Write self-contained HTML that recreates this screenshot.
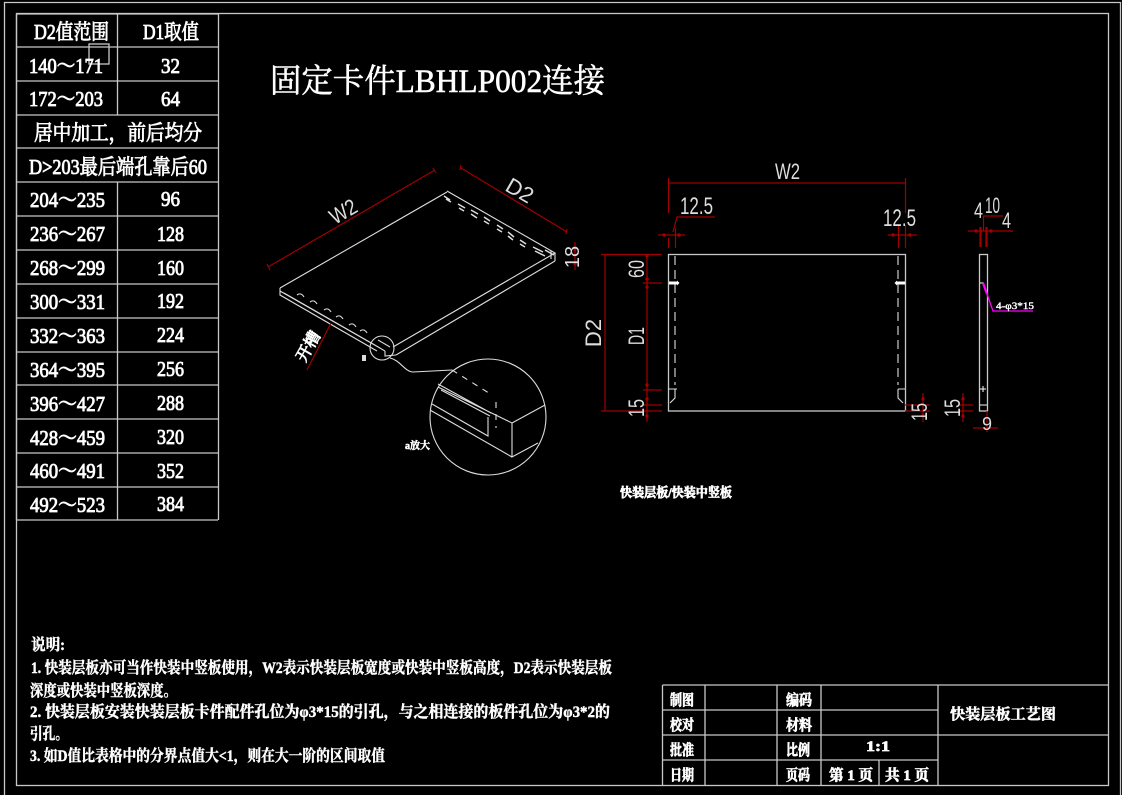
<!DOCTYPE html>
<html><head><meta charset="utf-8"><style>
html,body{margin:0;padding:0;background:#000;width:1122px;height:795px;overflow:hidden}
svg{display:block}
.l{stroke:#c8c8c8;stroke-width:1.3;fill:none}
.w{stroke:#ddd;stroke-width:1.1;fill:none}
.r{stroke:#a00000;stroke-width:1.2;fill:none}
.d{fill:#a00000;stroke:none}
text{font-family:"Liberation Serif","Noto Serif CJK SC",serif;fill:#fff;stroke:#fff;stroke-width:.45}
.t{font-size:21px;stroke-width:.85}
.c{font-family:"Liberation Sans",sans-serif;stroke-width:0;fill:#ddd;font-size:22px}
.n{font-size:15px;font-weight:bold;stroke-width:.7}
</style></head><body>
<svg width="1122" height="795" viewBox="0 0 1122 795" xmlns="http://www.w3.org/2000/svg">
<rect width="1122" height="795" fill="#000"/>
<path class="l" d="M4.500 795V2.500H1120.500V795"/>
<rect x="16.500" y="13.500" width="1092" height="772" class="l"/>

<!-- table -->
<path class="l" d="M16.500 14V520M218.500 14V520M117.500 14V115M117.500 182V520M16 14H218M16 47H218M16 81H218M16 115H218M16 148H218M16 182H218M16 216H218M16 250H218M16 284H218M16 318H218M16 352H218M16 385H218M16 419H218M16 453H218M16 487H218M16 520H218"/>
<rect x="89" y="44" width="20" height="20" class="l" stroke-width="1"/>
<g>
<text class="t" x="34" y="39" textLength="75" lengthAdjust="spacingAndGlyphs">D2值范围</text>
<text class="t" x="143" y="39" textLength="56" lengthAdjust="spacingAndGlyphs">D1取值</text>
<text class="t" x="29" y="73" textLength="74" lengthAdjust="spacingAndGlyphs">140～171</text>
<text class="t" x="161" y="73" textLength="19" lengthAdjust="spacingAndGlyphs">32</text>
<text class="t" x="29" y="106" textLength="74" lengthAdjust="spacingAndGlyphs">172～203</text>
<text class="t" x="161" y="106" textLength="19" lengthAdjust="spacingAndGlyphs">64</text>
<text class="t" x="34" y="140" textLength="168" lengthAdjust="spacingAndGlyphs">居中加工，前后均分</text>
<text class="t" x="29" y="174" textLength="178" lengthAdjust="spacingAndGlyphs">D&gt;203最后端孔靠后60</text>
<text class="t" x="30" y="207" textLength="75" lengthAdjust="spacingAndGlyphs">204～235</text>
<text class="t" x="161" y="206" textLength="19" lengthAdjust="spacingAndGlyphs">96</text>
<text class="t" x="30" y="241" textLength="75" lengthAdjust="spacingAndGlyphs">236～267</text>
<text class="t" x="157" y="241" textLength="27" lengthAdjust="spacingAndGlyphs">128</text>
<text class="t" x="30" y="275" textLength="75" lengthAdjust="spacingAndGlyphs">268～299</text>
<text class="t" x="157" y="275" textLength="27" lengthAdjust="spacingAndGlyphs">160</text>
<text class="t" x="30" y="309" textLength="75" lengthAdjust="spacingAndGlyphs">300～331</text>
<text class="t" x="157" y="308" textLength="27" lengthAdjust="spacingAndGlyphs">192</text>
<text class="t" x="30" y="343" textLength="75" lengthAdjust="spacingAndGlyphs">332～363</text>
<text class="t" x="157" y="342" textLength="27" lengthAdjust="spacingAndGlyphs">224</text>
<text class="t" x="30" y="377" textLength="75" lengthAdjust="spacingAndGlyphs">364～395</text>
<text class="t" x="157" y="376" textLength="27" lengthAdjust="spacingAndGlyphs">256</text>
<text class="t" x="30" y="411" textLength="75" lengthAdjust="spacingAndGlyphs">396～427</text>
<text class="t" x="157" y="410" textLength="27" lengthAdjust="spacingAndGlyphs">288</text>
<text class="t" x="30" y="445" textLength="75" lengthAdjust="spacingAndGlyphs">428～459</text>
<text class="t" x="157" y="444" textLength="27" lengthAdjust="spacingAndGlyphs">320</text>
<text class="t" x="30" y="478" textLength="75" lengthAdjust="spacingAndGlyphs">460～491</text>
<text class="t" x="157" y="478" textLength="27" lengthAdjust="spacingAndGlyphs">352</text>
<text class="t" x="30" y="512" textLength="75" lengthAdjust="spacingAndGlyphs">492～523</text>
<text class="t" x="157" y="511" textLength="27" lengthAdjust="spacingAndGlyphs">384</text>
</g>

<text x="270" y="92" font-size="33" textLength="335" lengthAdjust="spacingAndGlyphs" style="stroke-width:.55">固定卡件LBHLP002连接</text>

<!-- isometric -->
<g class="w">
<path d="M280 288L447 192M447 191L555 253L393 347M555 261L396 355M555 253V261M551 251V259"/>
<path d="M280 288V295L377 351M280 291L385 351M284 293L380 348M385 351V356L396 355M378 340L390 347"/>
<path stroke-width="1.500" d="M444 196l6 4M446 199l5 3M458 204l7 4M459 208l5 3M471 210l7 4M471 214l6 4M484 217l6 4M484 221l5 3M497 225l6 4M497 229l5 3M508 232l6 5M508 236l5 4M520 240l6 4M520 244l5 3M533 247l10 5M535 251l10 5M545 250l9 5"/>
<path d="M297 295q4-3 7 2M310 302q4-3 7 2M324 310q4-3 7 2M336 317q4-3 7 2M349 325q4-3 7 2M360 331q4-3 7 2"/>
<circle cx="382" cy="348" r="12"/>
<circle cx="488" cy="417" r="58"/>
<path d="M390 358C400 360 405 372 413 372L452 370"/>
<path d="M438 387L512 423L545 405M512 423V457L538 443M430 410L512 457M432 404L488 436V417M438 384L491 413M441 390l49 26"/>
<path stroke-dasharray="6 6" d="M452 370L492 395M496 402V428"/>
</g>
<rect x="362" y="355" width="4" height="6" fill="#ddd"/>
<text x="405" y="449" font-size="10" font-weight="bold" textLength="25" lengthAdjust="spacingAndGlyphs" style="stroke-width:.5">a放大</text>

<path class="r" d="M268 267L435 170M267 264l3 6M433 168l3 5M461 168L567 232M461 165l-1 5M567 229l-1 5M575 242V270M331 323L307 370"/>
<circle class="d" cx="575" cy="250" r="1.600"/><circle class="d" cx="575" cy="264" r="1.600"/>
<text class="c" transform="translate(347,218) rotate(-30)" text-anchor="middle" textLength="28" lengthAdjust="spacingAndGlyphs">W2</text>
<text class="c" transform="translate(516,197) rotate(30)" text-anchor="middle">D2</text>
<text class="c" transform="translate(579,257) rotate(-90)" text-anchor="middle" style="font-size:20px">18</text>
<text transform="translate(313,349) rotate(-60)" font-size="16" text-anchor="middle" style="stroke-width:.9">开槽</text>

<!-- front view -->
<rect x="668.500" y="254.500" width="237" height="156.500" class="l"/>
<path class="w" stroke-dasharray="9 5" d="M675 256V385M898 256V385"/>
<path class="w" d="M668 389H677M898 389H905M675 389V398L670 403M898 389V398L903 403"/>
<path d="M669 283H677" stroke="#fff" stroke-width="3"/><path d="M897 283H905" stroke="#fff" stroke-width="3"/>
<path d="M677 280.500L679.500 283L677 285.500z" fill="#fff"/><path d="M897 280.500L894.500 283L897 285.500z" fill="#fff"/>

<!-- side view -->
<rect x="979.500" y="254.500" width="8" height="156.500" class="l"/>
<path class="w" d="M980 405H987"/>
<path d="M980 389H986M983 386V392M980 283H984" stroke="#fff"/>

<!-- dims -->
<path class="r" d="M668.500 178V213M905.500 178V213M668 183H905M668.500 238V248M675.500 228V248M898.500 225V248M905.500 225V248M658 235H685M888 235H917M673 232L677 217H715
M605 254V411M601 254.500H662M601 411H662M647 254V422M643 283H662M643 390H662M643 405H662
M923 393V422M905 405H930M905 411H930M963 393V422M960 405H973M960 411H973
M983.500 216V231M968 231H1013M983 216H1003M973 428H998M987 411V432"/>
<path d="M980.500 227V247M986.500 227V247" stroke="#a00000" stroke-width="2.200"/>
<g class="d"><circle cx="664" cy="235" r="1.700"/><circle cx="679" cy="235" r="1.700"/><circle cx="893" cy="235" r="1.700"/><circle cx="910" cy="235" r="1.700"/>
<circle cx="647" cy="256" r="1.700"/><circle cx="647" cy="279" r="1.700"/><circle cx="647" cy="287" r="1.700"/><circle cx="647" cy="385" r="1.700"/><circle cx="647" cy="399" r="1.700"/><circle cx="647" cy="416" r="1.700"/>
<circle cx="923" cy="399" r="1.700"/><circle cx="923" cy="416" r="1.700"/><circle cx="963" cy="399" r="1.700"/><circle cx="963" cy="416" r="1.700"/>
<circle cx="976" cy="231" r="1.700"/><circle cx="991" cy="231" r="1.700"/></g>

<text class="c" x="775" y="179" textLength="25" lengthAdjust="spacingAndGlyphs">W2</text>
<text class="c" x="680" y="214" textLength="33" lengthAdjust="spacingAndGlyphs" style="font-size:24px">12.5</text>
<text class="c" x="883" y="226" textLength="33" lengthAdjust="spacingAndGlyphs" style="font-size:24px">12.5</text>
<text class="c" transform="translate(601,333) rotate(-90)" text-anchor="middle">D2</text>
<text class="c" transform="translate(644,269) rotate(-90)" text-anchor="middle" style="font-size:22px" textLength="18" lengthAdjust="spacingAndGlyphs">60</text>
<text class="c" transform="translate(644,336) rotate(-90)" text-anchor="middle" style="font-size:22px" textLength="18" lengthAdjust="spacingAndGlyphs">D1</text>
<text class="c" transform="translate(644,408) rotate(-90)" text-anchor="middle" style="font-size:22px" textLength="18" lengthAdjust="spacingAndGlyphs">15</text>
<text class="c" transform="translate(927,412) rotate(-90)" text-anchor="middle" style="font-size:22px" textLength="18" lengthAdjust="spacingAndGlyphs">15</text>
<text class="c" transform="translate(960,408) rotate(-90)" text-anchor="middle" style="font-size:22px" textLength="18" lengthAdjust="spacingAndGlyphs">15</text>
<text class="c" x="985" y="213" style="font-size:22px" textLength="15" lengthAdjust="spacingAndGlyphs">10</text>
<text class="c" x="974" y="218" style="font-size:22px" textLength="9" lengthAdjust="spacingAndGlyphs">4</text>
<text class="c" x="1002" y="228" style="font-size:22px" textLength="9" lengthAdjust="spacingAndGlyphs">4</text>
<text class="c" transform="translate(987,430)" text-anchor="middle" style="font-size:18px">9</text>
<path d="M983 283L986 291L993 311H1033" stroke="#f0f" stroke-width="1.300" fill="none"/>
<path d="M983 283L987 294" stroke="#f0f" stroke-width="2.200" fill="none"/>
<text x="996" y="309" font-size="9" textLength="38" lengthAdjust="spacingAndGlyphs" style="stroke-width:.4">4-φ3*15</text>

<text x="620" y="497" font-size="13" font-weight="bold" textLength="112" lengthAdjust="spacingAndGlyphs" style="stroke-width:.7">快装层板/快装中竖板</text>

<!-- notes -->
<g font-size="16" font-weight="bold" style="stroke-width:.7">
<text x="31" y="650" textLength="34" lengthAdjust="spacingAndGlyphs">说明:</text>
<text x="31" y="673" textLength="581" lengthAdjust="spacingAndGlyphs">1. 快装层板亦可当作快装中竖板使用，W2表示快装层板宽度或快装中竖板高度，D2表示快装层板</text>
<text x="30" y="696" textLength="147" lengthAdjust="spacingAndGlyphs">深度或快装中竖板深度。</text>
<text x="30" y="717" textLength="580" lengthAdjust="spacingAndGlyphs">2. 快装层板安装快装层板卡件配件孔位为φ3*15的引孔，与之相连接的板件孔位为φ3*2的</text>
<text x="30" y="739" textLength="38" lengthAdjust="spacingAndGlyphs">引孔。</text>
<text x="30" y="761" textLength="355" lengthAdjust="spacingAndGlyphs">3. 如D值比表格中的分界点值大&lt;1，则在大一阶的区间取值</text>
</g>

<!-- title block -->
<path class="l" d="M662.500 685H1108M662.500 710H938M662.500 735H1108M662.500 760H938M662.500 685V785M705 685V785M777 685V785M821 685V785M938 685V785M879 760V785"/>
<g font-weight="bold">
<text class="n" x="670" y="705" textLength="24" lengthAdjust="spacingAndGlyphs">制图</text>
<text class="n" x="670" y="730" textLength="24" lengthAdjust="spacingAndGlyphs">校对</text>
<text class="n" x="670" y="755" textLength="24" lengthAdjust="spacingAndGlyphs">批准</text>
<text class="n" x="670" y="780" textLength="24" lengthAdjust="spacingAndGlyphs">日期</text>
<text class="n" x="786" y="705" textLength="26" lengthAdjust="spacingAndGlyphs">编码</text>
<text class="n" x="786" y="730" textLength="26" lengthAdjust="spacingAndGlyphs">材料</text>
<text class="n" x="786" y="755" textLength="24" lengthAdjust="spacingAndGlyphs">比例</text>
<text class="n" x="786" y="780" textLength="24" lengthAdjust="spacingAndGlyphs">页码</text>
<text class="n" x="866" y="751" textLength="24" lengthAdjust="spacingAndGlyphs">1:1</text>
<text class="n" x="829" y="780" textLength="44" lengthAdjust="spacingAndGlyphs">第 1 页</text>
<text class="n" x="885" y="780" textLength="44" lengthAdjust="spacingAndGlyphs">共 1 页</text>
</g>
<text x="950" y="719" font-size="15" font-weight="bold" textLength="106" lengthAdjust="spacingAndGlyphs" style="stroke-width:.5">快装层板工艺图</text>
</svg>
</body></html>
